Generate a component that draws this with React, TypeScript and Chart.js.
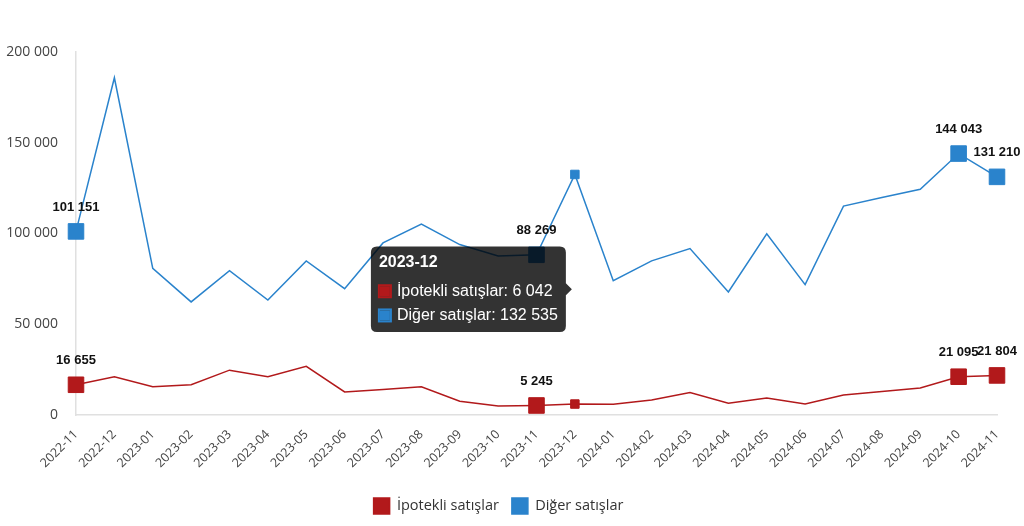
import React, { useEffect, useRef } from "react";
import { Chart, registerables } from "chart.js";

Chart.register(...registerables);

const categories = [
  "2022-11", "2022-12", "2023-01", "2023-02", "2023-03", "2023-04", "2023-05",
  "2023-06", "2023-07", "2023-08", "2023-09", "2023-10", "2023-11", "2023-12",
  "2024-01", "2024-02", "2024-03", "2024-04", "2024-05", "2024-06", "2024-07",
  "2024-08", "2024-09", "2024-10", "2024-11",
];

const ipotekliSatislar = [
  16655, 21100, 15600, 16700, 24700, 21100, 26800, 12700, 14100, 15500, 7600,
  4900, 5245, 6042, 5900, 8300, 12400, 6500, 9300, 6100, 11000, 12900, 14900,
  21095, 21804,
];

const digerSatislar = [
  101151, 185800, 80800, 62300, 79500, 63300, 84900, 69600, 94800, 105200,
  93900, 87600, 88269, 132535, 74000, 84900, 91700, 67800, 99800, 71800,
  115100, 119800, 124400, 144043, 131210,
];

const seriesNames = ["İpotekli satışlar", "Diğer satışlar"];
const labeledIndices = [0, 12, 23, 24];
const hoveredIndex = 13;
const yTicks = [0, 50000, 100000, 150000, 200000];

const RED = "#b2191b";
const BLUE = "#2a83cc";

const fmt = (v: number) =>
  String(Math.round(v)).replace(/\B(?=(\d{3})+(?!\d))/g, " ");

const pointLabels = {
  id: "pointLabels",
  afterDatasetsDraw(chart: any) {
    const ctx = chart.ctx;
    ctx.save();
    ctx.font = 'bold 13px "Liberation Sans", Arial, sans-serif';
    ctx.fillStyle = "#111";
    ctx.textAlign = "center";
    ctx.textBaseline = "middle";
    chart.data.datasets.forEach((ds: any, di: number) => {
      const meta = chart.getDatasetMeta(di);
      labeledIndices.forEach((i) => {
        const el = meta.data[i];
        if (!el) return;
        ctx.fillText(fmt(ds.data[i]), el.x, el.y - 24);
      });
    });
    ctx.restore();
  },
};

export default function App() {
  const ref = useRef<HTMLCanvasElement | null>(null);

  useEffect(() => {
    if (!ref.current) return;
    const radii = categories.map((_, i) => (labeledIndices.includes(i) ? 11 : 0));
    const mk = (label: string, data: number[], color: string) => ({
      label,
      data,
      borderColor: color,
      backgroundColor: color,
      borderWidth: 1.5,
      pointStyle: "rect" as const,
      pointRadius: radii,
      pointBorderWidth: 1,
      pointBorderColor: color,
      pointBackgroundColor: color,
      pointHoverRadius: 6,
      pointHoverBorderWidth: 1,
      pointHoverBackgroundColor: color,
      pointHoverBorderColor: color,
      tension: 0,
      fill: false,
    });

    const chart = new Chart(ref.current, {
      type: "line",
      data: {
        labels: categories,
        datasets: [
          mk(seriesNames[0], ipotekliSatislar, RED),
          mk(seriesNames[1], digerSatislar, BLUE),
        ],
      },
      options: {
        animation: false,
        responsive: true,
        maintainAspectRatio: false,
        events: [],
        layout: { padding: { top: 52, right: 27, bottom: 2, left: 0 } },
        interaction: { mode: "index", intersect: false },
        scales: {
          x: {
            grid: { display: false, drawTicks: false },
            border: { display: true, color: "#e0e0e0", width: 1.5 },
            ticks: {
              autoSkip: false,
              minRotation: 45,
              maxRotation: 45,
              padding: 12,
              color: "#444",
              font: { family: '"Open Sans", sans-serif', size: 12.5 },
            },
            afterFit: (s: any) => {
              s.height = 70;
            },
          },
          y: {
            min: 0,
            max: 200000,
            grid: { display: false, drawTicks: false },
            border: { display: true, color: "#e0e0e0", width: 1.5 },
            afterBuildTicks: (s: any) => {
              s.ticks = yTicks.map((v) => ({ value: v }));
            },
            ticks: {
              padding: 18,
              color: "#444",
              font: { family: '"Open Sans", sans-serif', size: 14 },
              callback: (v: any) => fmt(Number(v)),
            },
            afterFit: (s: any) => {
              s.width = 76;
            },
          },
        },
        plugins: {
          legend: {
            position: "bottom",
            labels: {
              boxWidth: 16,
              boxHeight: 16,
              padding: 13,
              color: "#333",
              font: { family: '"Open Sans", sans-serif', size: 14.5 },
            },
          },
          tooltip: {
            enabled: true,
            xAlign: "right",
            yAlign: "center",
            backgroundColor: "rgba(0,0,0,0.8)",
            multiKeyBackground: "rgba(0,0,0,0)",
            cornerRadius: 6,
            caretSize: 6,
            caretPadding: 3,
            padding: { top: 7, bottom: 7, left: 8, right: 8 },
            titleFont: { family: '"Liberation Sans", Arial, sans-serif', size: 16, weight: "bold" },
            bodyFont: { family: '"Liberation Sans", Arial, sans-serif', size: 16 },
            titleColor: "#fff",
            bodyColor: "#fff",
            titleMarginBottom: 9,
            bodySpacing: 5,
            boxWidth: 12,
            boxHeight: 12,
            boxPadding: 4,
            callbacks: {
              label: (c: any) => `${c.dataset.label}: ${fmt(c.parsed.y)}`,
              labelColor: (c: any) => ({
                borderColor: c.dataset.borderColor,
                backgroundColor: c.dataset.borderColor,
                borderWidth: 2,
              }),
            },
          },
        },
      } as any,
      plugins: [pointLabels],
    });

    const active = [
      { datasetIndex: 0, index: hoveredIndex },
      { datasetIndex: 1, index: hoveredIndex },
    ];
    chart.setActiveElements(active);
    chart.tooltip?.setActiveElements(active, { x: 0, y: 0 });
    chart.update();

    return () => chart.destroy();
  }, []);

  return (
    <div style={{ position: "fixed", left: 0, top: 0, width: 1024, height: 526, background: "#fff" }}>
      <canvas ref={ref} />
    </div>
  );
}
